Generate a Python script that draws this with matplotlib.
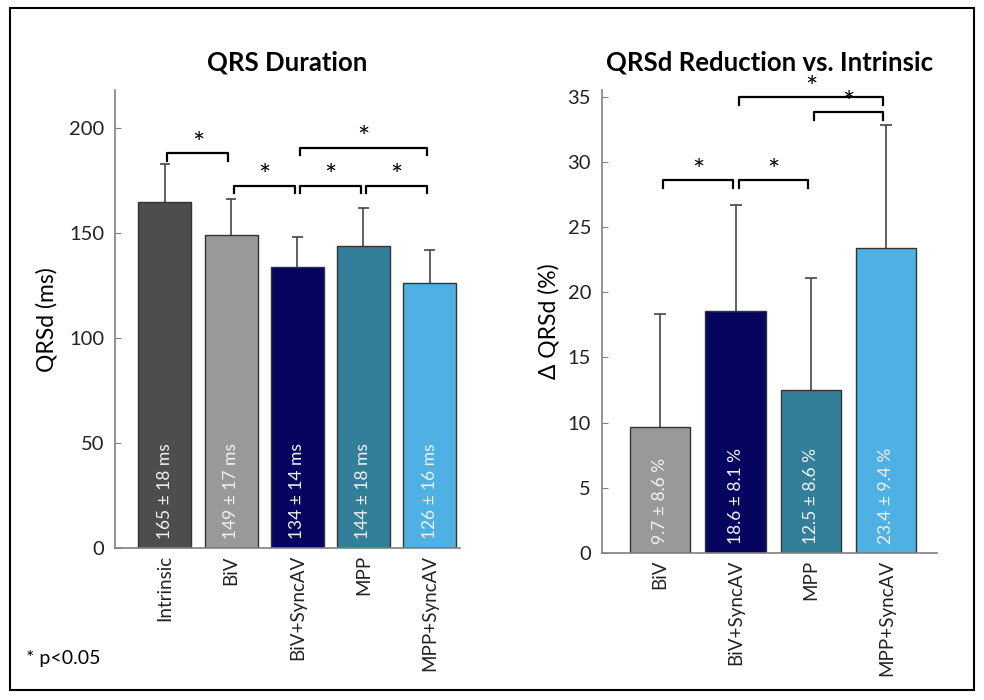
import matplotlib
matplotlib.use("Agg")
import matplotlib.pyplot as plt
from matplotlib.patches import Rectangle

plt.rcParams['font.family'] = ['Lato', 'DejaVu Sans']

# QRS duration per pacing mode (ms)
modes = ["Intrinsic", "BiV", "BiV+SyncAV", "MPP", "MPP+SyncAV"]
qrsd_mean = [165, 149, 134, 144, 126]
qrsd_sd = [18, 17, 14, 18, 16]
mode_colors = ["#4d4d4d", "#999999", "#05055f", "#337f99", "#4fb1e3"]

# QRSd reduction relative to intrinsic (%)
red_modes = ["BiV", "BiV+SyncAV", "MPP", "MPP+SyncAV"]
red_mean = [9.7, 18.6, 12.5, 23.4]
red_sd = [8.6, 8.1, 8.6, 9.4]
red_colors = ["#999999", "#05055f", "#337f99", "#4fb1e3"]

# significance brackets: (index a, index b, bracket height)
qrsd_sig = [(0, 1, 188), (1, 2, 172.5), (2, 3, 172.5), (3, 4, 172.5), (2, 4, 190.5)]
red_sig = [(0, 1, 28.6), (1, 2, 28.6), (2, 3, 33.8), (1, 3, 35.0)]

AXIS_GRAY = "#808080"


def style_axes(ax):
    for s in ["top", "right"]:
        ax.spines[s].set_visible(False)
    for s in ["left", "bottom"]:
        ax.spines[s].set_color(AXIS_GRAY)
        ax.spines[s].set_linewidth(1.2)
    ax.tick_params(axis="y", direction="in", length=4, color=AXIS_GRAY,
                   labelsize=14.5, labelcolor="#222222", pad=8)
    ax.tick_params(axis="x", length=0, labelsize=13.5, labelcolor="#222222", pad=5)


def draw_bars(ax, names, means, sds, colors, fmt):
    x = list(range(1, len(names) + 1))
    ax.bar(x, means, width=0.8, color=colors, edgecolor="#333333", linewidth=1.0, zorder=2)
    # upper-only error bars with a single cap
    tops = [m + s for m, s in zip(means, sds)]
    ax.vlines(x, means, tops, color="#444444", lw=1.2, zorder=1)
    ax.hlines(tops, [xi - 0.08 for xi in x], [xi + 0.08 for xi in x],
              color="#444444", lw=1.2, zorder=1)
    ax.set_xticks(x)
    ax.set_xticklabels(names, rotation=90)
    for xi, m, s in zip(x, means, sds):
        ax.text(xi, ax.get_ylim()[1] * 0.02, fmt.format(m, s), rotation=90,
                ha="center", va="bottom", color="#f2f2f2", fontsize=12.5, zorder=3)


def draw_sig(ax, pairs, drop, gap=0.04):
    for a, b, h in pairs:
        x0, x1 = a + 1 + gap, b + 1 - gap
        ax.plot([x0, x0, x1, x1], [h - drop, h, h, h - drop], color="black",
                lw=1.6, clip_on=False, zorder=4)
        ax.text((x0 + x1) / 2, h - drop * 0.6, "*", ha="center", va="bottom",
                fontsize=21, clip_on=False)


fig = plt.figure(figsize=(9.84, 7.0), dpi=100)

ax1 = fig.add_axes([0.117, 0.217, 0.350, 0.654])
ax1.set_xlim(0.25, 5.45)
ax1.set_ylim(0, 218)
ax1.set_yticks([0, 50, 100, 150, 200])
style_axes(ax1)
draw_bars(ax1, modes, qrsd_mean, qrsd_sd, mode_colors, "{} ± {} ms")
draw_sig(ax1, qrsd_sig, drop=3.5)
ax1.set_ylabel("QRSd (ms)", fontsize=16.5, labelpad=8)
ax1.set_title("QRS Duration", fontsize=18.5, fontweight="bold", pad=14)

ax2 = fig.add_axes([0.612, 0.210, 0.340, 0.661])
ax2.set_xlim(0.23, 4.67)
ax2.set_ylim(0, 35.5)
ax2.set_yticks([0, 5, 10, 15, 20, 25, 30, 35])
style_axes(ax2)
draw_bars(ax2, red_modes, red_mean, red_sd, red_colors, "{} ± {} %")
draw_sig(ax2, red_sig, drop=0.6)
ax2.set_ylabel("Δ QRSd (%)", fontsize=16.5, labelpad=6)
ax2.set_title("QRSd Reduction vs. Intrinsic", fontsize=18.5, fontweight="bold", pad=14)

fig.text(0.026, 0.052, "* p<0.05", fontsize=14)
fig.patches.append(Rectangle((0.010, 0.014), 0.980, 0.975, transform=fig.transFigure,
                             fill=False, edgecolor="black", linewidth=1.5))

fig.savefig("out.png", dpi=100)
